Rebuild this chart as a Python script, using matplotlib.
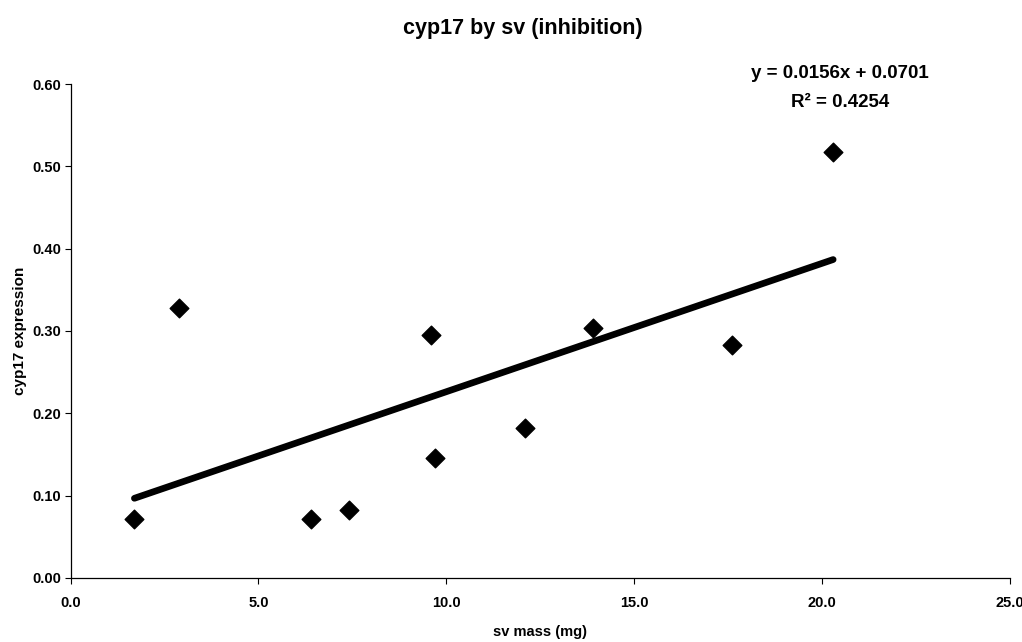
import numpy as np
import matplotlib
matplotlib.use("Agg")
import matplotlib.pyplot as plt
from matplotlib.ticker import FormatStrFormatter

plt.rcParams['font.family'] = ['Liberation Sans', 'DejaVu Sans']

# sv mass (mg) and cyp17 expression
sv_mass = [1.7, 2.9, 6.4, 7.4, 9.6, 9.7, 12.1, 13.9, 17.6, 20.3]
cyp17 = [0.072, 0.328, 0.071, 0.082, 0.295, 0.145, 0.182, 0.304, 0.283, 0.518]

# Excel linear trendline as printed on the chart
slope = 0.0156
intercept = 0.0701
r_squared = 0.4254

x_ticks = [0.0, 5.0, 10.0, 15.0, 20.0, 25.0]
y_ticks = [0.00, 0.10, 0.20, 0.30, 0.40, 0.50, 0.60]

fig = plt.figure(figsize=(10.22, 6.42), dpi=100)
ax = fig.add_axes([0.069, 0.100, 0.919, 0.769])

ax.scatter(sv_mass, cyp17, marker='D', s=90, color='black', zorder=3)

trend_x = np.array([min(sv_mass), max(sv_mass)])
ax.plot(trend_x, slope * trend_x + intercept, color='black', linewidth=4.8,
        solid_capstyle='round', zorder=2)

ax.set_xlim(0, 25)
ax.set_ylim(0, 0.6)
ax.set_xticks(x_ticks)
ax.set_yticks(y_ticks)
ax.xaxis.set_major_formatter(FormatStrFormatter('%.1f'))
ax.yaxis.set_major_formatter(FormatStrFormatter('%.2f'))

for side in ['top', 'right']:
    ax.spines[side].set_visible(False)
for side in ['left', 'bottom']:
    ax.spines[side].set_linewidth(0.9)

ax.tick_params(axis='both', direction='out', length=4, width=0.8,
               labelsize=10.5)
ax.tick_params(axis='x', pad=9)
ax.tick_params(axis='y', pad=2.5)
for lab in ax.get_xticklabels() + ax.get_yticklabels():
    lab.set_fontweight('bold')

ax.set_xlabel('sv mass (mg)', fontsize=10.5, fontweight='bold', labelpad=11)
ax.set_ylabel('cyp17 expression', fontsize=11, fontweight='bold', labelpad=4)

fig.text(0.512, 0.956, 'cyp17 by sv (inhibition)', ha='center', va='center',
         fontsize=15.5, fontweight='bold')

fig.text(0.822, 0.886, f'y = {slope:.4f}x + {intercept:.4f}', ha='center',
         va='center', fontsize=13.5, fontweight='bold')
fig.text(0.822, 0.841, f'R\u00b2 = {r_squared:.4f}', ha='center',
         va='center', fontsize=13.5, fontweight='bold')

fig.savefig('out.png', dpi=100)
